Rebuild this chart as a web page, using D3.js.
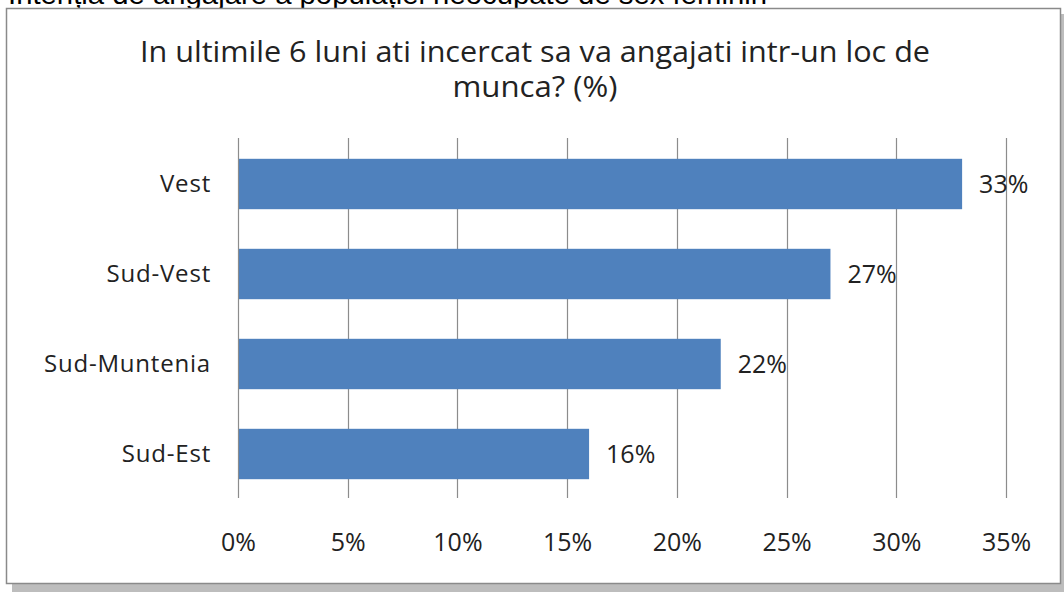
<!DOCTYPE html>
<html><head><meta charset="utf-8">
<script src="https://cdn.jsdelivr.net/npm/d3@7"></script>
<style>body{margin:0;background:#fff;}svg{display:block;}</style>
</head><body>
<script>
const categories = ["Vest", "Sud-Vest", "Sud-Muntenia", "Sud-Est"];
const values = [33, 27, 22, 16];
const tickValues = [0, 5, 10, 15, 20, 25, 30, 35];
const titleLines = ["In ultimile 6 luni ati incercat sa va angajati intr-un loc de", "munca? (%)"];
const topText = "Intenția de angajare a populației neocupate de sex feminin";

const W = 1064, H = 592;
const svg = d3.select("body").append("svg").attr("width", W).attr("height", H);
const font = "'Open Sans', 'Noto Sans', sans-serif";

// heading above the chart, cut by the page top as in the source
svg.append("text").attr("x", 8).attr("y", 4).attr("font-family", "'Liberation Sans', Arial, sans-serif")
  .attr("font-size", 27).attr("fill", "#000")
  .attr("textLength", 759).attr("lengthAdjust", "spacingAndGlyphs").text(topText);

// shadow + frame
svg.append("rect").attr("x", 12).attr("y", 14).attr("width", 1052).attr("height", 578).attr("fill", "#bdbdbd");
svg.append("rect").attr("x", 6.5).attr("y", 8.5).attr("width", 1054).attr("height", 575).attr("fill", "#fff")
  .attr("stroke", "#8a8a8a").attr("stroke-width", 1.5);

// title
svg.selectAll("text.title").data(titleLines).enter().append("text").attr("class", "title")
  .attr("x", 535).attr("y", (d, i) => 62 + i * 35)
  .attr("text-anchor", "middle").attr("font-family", font).attr("font-size", 30).attr("fill", "#222")
  .attr("textLength", (d, i) => i === 0 ? 790 : 165).attr("lengthAdjust", "spacingAndGlyphs")
  .text(d => d);

const x = d3.scaleLinear().domain([0, 35]).range([238, 1006]);
const y = d3.scaleBand().domain(categories).range([138, 498]).paddingInner(0.44).paddingOuter(0.22);

// gridlines
svg.append("g").selectAll("line").data(tickValues).enter().append("line")
  .attr("x1", d => Math.round(x(d)) + 0.5).attr("x2", d => Math.round(x(d)) + 0.5)
  .attr("y1", 138).attr("y2", 498).attr("stroke", "#8c8c8c").attr("stroke-width", 1.2);

// bars
svg.append("g").selectAll("rect").data(categories).enter().append("rect")
  .attr("x", x(0) + 1).attr("y", d => y(d) + 1)
  .attr("width", (d, i) => x(values[i]) - x(0) - 1).attr("height", y.bandwidth())
  .attr("fill", "#4f81bd");

// x axis tick labels
const xAxis = d3.axisBottom(x).tickValues(tickValues).tickFormat(d => d + "%").tickSize(0).tickPadding(0);
const gx = svg.append("g").attr("transform", "translate(0,533)").call(xAxis);
gx.select(".domain").remove();
gx.selectAll("text").attr("font-family", font).attr("font-size", 25).attr("fill", "#222");

// y axis category labels
const yAxis = d3.axisLeft(y).tickSize(0).tickPadding(0);
const gy = svg.append("g").attr("transform", "translate(211,1)").call(yAxis);
gy.select(".domain").remove();
gy.selectAll("text").attr("font-family", font).attr("font-size", 24).attr("letter-spacing", 0.8)
  .attr("fill", "#222").attr("dy", "0.35em");

// data labels
svg.append("g").selectAll("text").data(categories).enter().append("text")
  .attr("x", (d, i) => x(values[i]) + 17).attr("y", d => y(d) + y.bandwidth() / 2 + 1)
  .attr("dy", "0.35em").attr("font-family", font).attr("font-size", 25).attr("fill", "#222")
  .text((d, i) => values[i] + "%");
</script>
</body></html>
